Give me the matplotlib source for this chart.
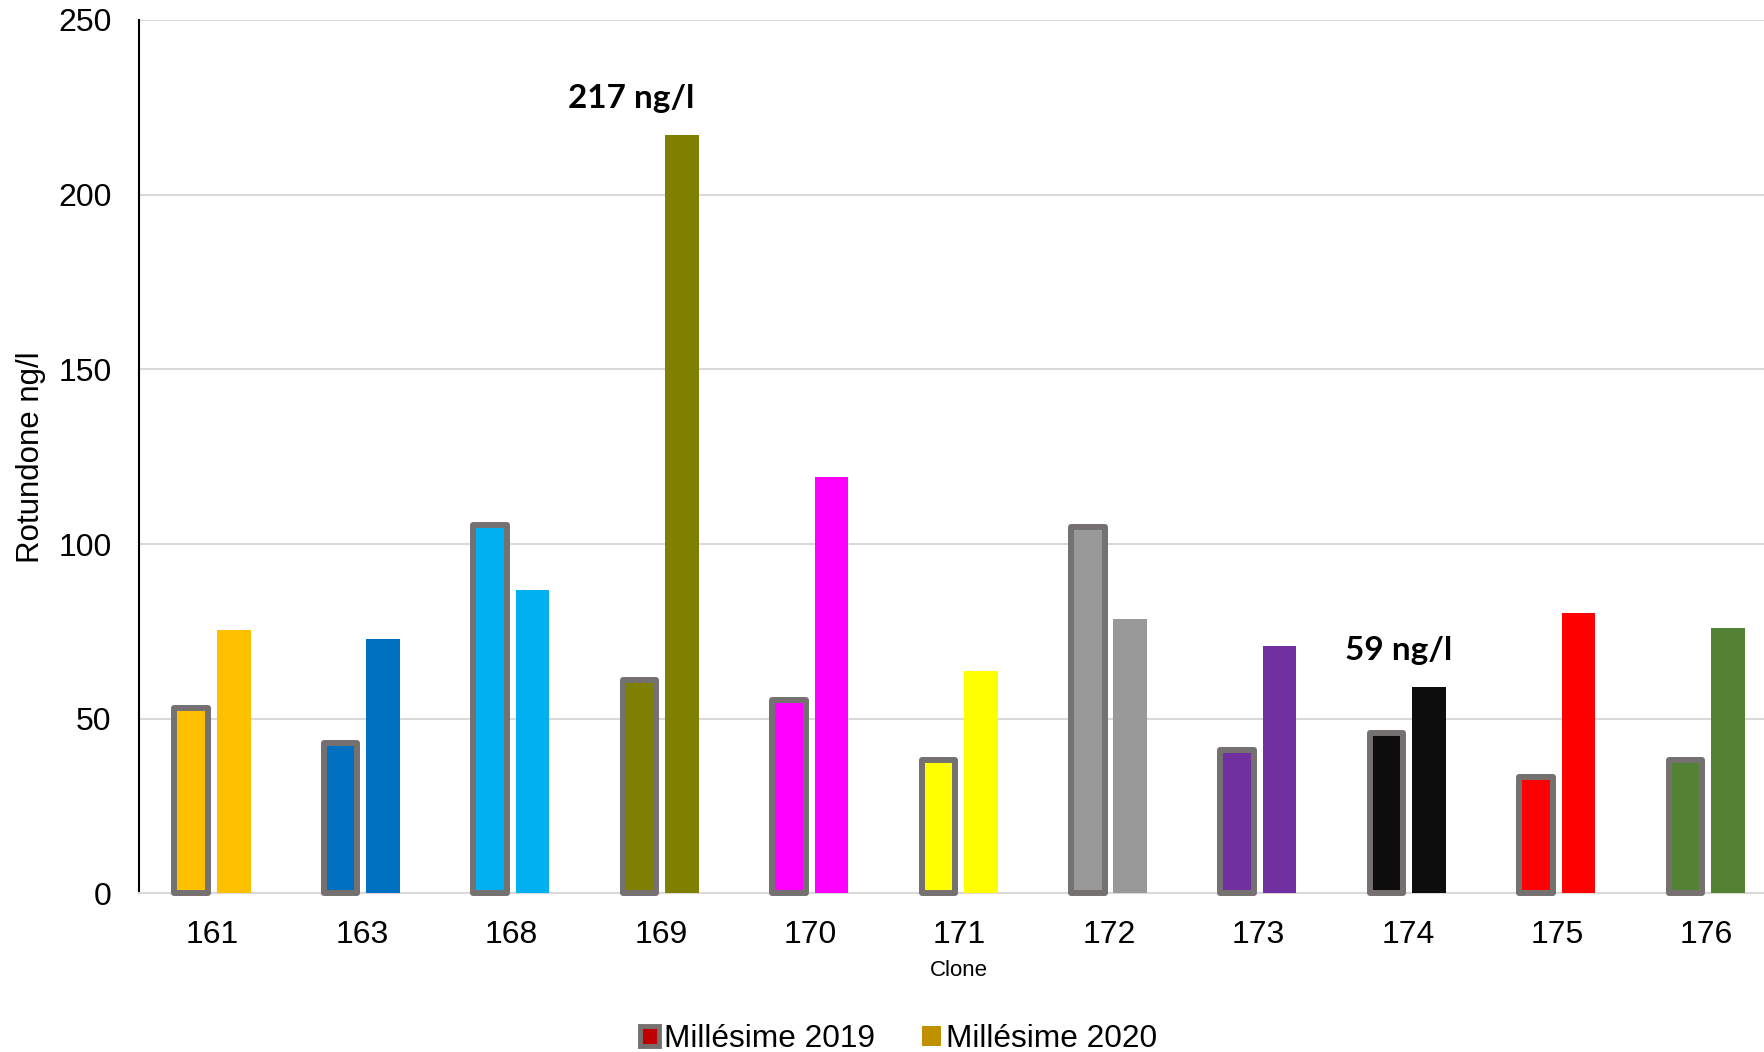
import numpy as np
import matplotlib
matplotlib.use("Agg")
import matplotlib.pyplot as plt
from matplotlib.patches import Patch

# ------------------------------------------------------------------------
# Data:
# ------------------------------------------------------------------------

clones = ["161", "163", "168", "169", "170", "171", "172", "173", "174", "175", "176"]
vals_2019 = [53.1, 43.2, 105.6, 61.1, 55.4, 38.2, 104.9, 41.2, 45.9, 33.3, 38.3]
vals_2020 = [75.3, 72.7, 86.9, 217, 119.1, 63.7, 78.5, 70.8, 59, 80.4, 76.0]
clone_colors = ["#ffc000", "#0070c0", "#00b0f0", "#7f7f00", "#ff00ff", "#ffff00",
                "#999999", "#7030a0", "#0d0d0d", "#ff0000", "#548235"]

notes = [("217 ng/l", 3, 217), ("59 ng/l", 8, 59)]

# ------------------------------------------------------------------------
# Plot:
# ------------------------------------------------------------------------

plt.rcParams["font.family"] = ["Liberation Sans", "DejaVu Sans"]

fig = plt.figure(figsize=(17.65, 10.52), dpi=100, facecolor="w")
ax = fig.add_axes([0.0789, 0.1507, 0.9211, 0.8303])

x = np.arange(len(clones))
width = 0.225
offset = 0.142
outline = "#767171"

ax.bar(x - offset, vals_2019, width, color=clone_colors, edgecolor=outline,
       linewidth=4.3, joinstyle="round", zorder=3, clip_on=False)
ax.bar(x + offset, vals_2020, width, color=clone_colors, linewidth=0, zorder=3)

for text, i, v in notes:
  ax.text(i - 0.2 if v > 100 else i - 0.06, v + 10.5, text,
          ha="center", va="center", fontsize=24, fontweight="bold",
          family=["Lato", "DejaVu Sans"])

ax.set_ylim(0, 250)
ax.set_xlim(-0.49, 10.39)
ax.set_yticks(range(0, 251, 50))
ax.set_xticks(x)
ax.set_xticklabels(clones)
ax.tick_params(axis="both", length=0, labelsize=23)
ax.tick_params(axis="x", pad=19)
ax.tick_params(axis="y", pad=20)

ax.yaxis.grid(True, color="#d9d9d9", linewidth=1.5, zorder=0)
ax.set_axisbelow(True)
for side in ["top", "right"]:
  ax.spines[side].set_visible(False)
ax.spines["bottom"].set_color("#d9d9d9")
ax.spines["bottom"].set_linewidth(1.5)
ax.spines["left"].set_color("black")
ax.spines["left"].set_linewidth(1.5)

ax.set_ylabel("Rotundone ng/l", fontsize=22.5, va="center")
ax.yaxis.set_label_coords(-0.0663, 0.5)
ax.set_xlabel("Clone", fontsize=16, va="center")
ax.xaxis.set_label_coords(0.504, -0.088)

handles = [
  Patch(facecolor="#c00000", edgecolor=outline, linewidth=3.5),
  Patch(facecolor="#bf9000", edgecolor="none"),
]
fig.legend(handles, ["Millésime 2019", "Millésime 2020"], loc="center",
           bbox_to_anchor=(0.509, 0.012), ncol=2, frameon=False, fontsize=22.8,
           handlelength=0.6, handleheight=0.6, handletextpad=0.15, columnspacing=1.5)

fig.savefig("out.png", dpi=100, facecolor="w")
